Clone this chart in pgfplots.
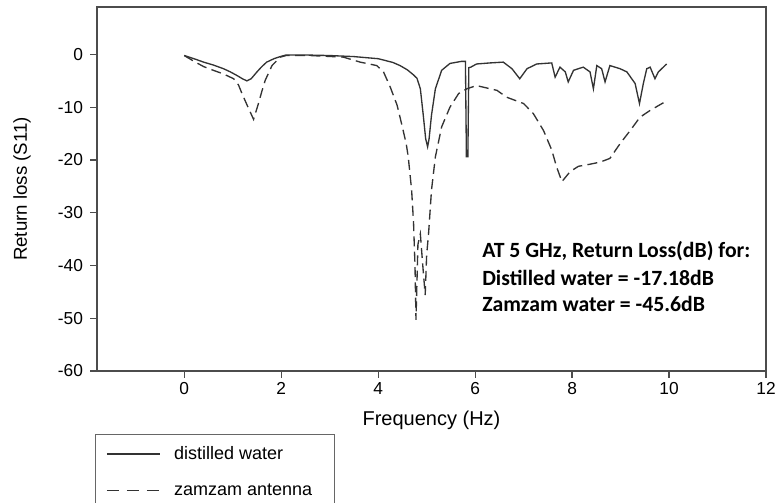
\documentclass[border=0pt]{standalone}
\usepackage{fontspec}
\setmainfont{Liberation Sans}
\newfontfamily\calib{Carlito}
\usepackage{pgfplots}
\pgfplotsset{compat=1.18}
\begin{document}
\begin{tikzpicture}
\path[use as bounding box, clip] (-72.75pt,-99pt) rectangle (508.5pt,278.25pt);
\begin{axis}[
  at={(0pt,0pt)}, anchor=south west,
  scale only axis, width=501.75pt, height=273pt,
  xmin=-1.8, xmax=12, ymin=-60, ymax=9,
  xtick={0,2,...,12}, ytick={-60,-50,...,0},
  tick pos=left, tick align=outside, major tick length=5pt,
  axis line style={black!70, line width=0.9pt},
  every tick/.style={black!70, line width=0.9pt},
  ticklabel style={font=\fontsize{13}{15}\selectfont},
  yticklabel style={xshift=-2pt},
  /pgf/number format/assume math mode=true,
  xlabel={Frequency (Hz)},
  ylabel={Return loss (S11)},
  xlabel style={font=\fontsize{15}{17}\selectfont, at={(axis description cs:0.5,-0.1346)}, anchor=center},
  ylabel style={font=\fontsize{14}{16}\selectfont, at={(axis description cs:-0.112,0.5)}, anchor=center},
  legend style={at={(-0.003,-0.173)}, anchor=north west, draw=black!60, line width=0.8pt,
    font=\fontsize{13.5}{15}\selectfont, row sep=12.5pt, inner xsep=8pt, inner ysep=7pt,
    nodes={inner sep=2pt}, column sep=8pt},
  legend cell align=left,
  legend image code/.code={\draw[#1] (0pt,0pt) -- (40pt,0pt);},
]
\addplot[black!80, line width=1pt] coordinates {
(0,-0.2) (0.2,-0.8) (0.4,-1.45) (0.6,-2.0) (0.81,-2.7) (0.95,-3.3) (1.09,-4.0) (1.2,-4.6) (1.29,-5.0)
(1.38,-4.6) (1.5,-3.3) (1.6,-2.3) (1.7,-1.45) (1.85,-0.8) (1.98,-0.4) (2.1,-0.1) (2.5,-0.1) (3.0,-0.2)
(3.5,-0.4) (4.0,-0.8) (4.3,-1.5) (4.45,-2.1) (4.6,-2.9) (4.72,-3.8) (4.8,-4.5) (4.87,-6.5) (4.93,-11.5)
(4.98,-16) (5.02,-17.5) (5.05,-16) (5.1,-11.5) (5.18,-6.5) (5.31,-3) (5.48,-1.7) (5.72,-1.3) (5.80,-1.3)
(5.82,-19.4) (5.85,-19.4) (5.87,-2.5) (5.91,-2.4) (6.03,-1.8) (6.31,-1.6) (6.58,-1.45) (6.76,-2.7)
(6.92,-4.6) (7.07,-2.7) (7.27,-1.8) (7.58,-1.6) (7.65,-4.3) (7.75,-2.4) (7.86,-3.3) (7.92,-5.2)
(8.03,-3.0) (8.23,-2.4) (8.37,-3.3) (8.44,-6.5) (8.51,-2.1) (8.61,-2.7) (8.68,-5.2) (8.78,-2.1)
(8.99,-2.7) (9.13,-3.3) (9.30,-5.5) (9.39,-9.3) (9.47,-5.5) (9.54,-2.7) (9.61,-2.4) (9.71,-4.6)
(9.78,-3.3) (9.95,-1.8)
};
\addlegendentry{\makebox[110pt][l]{distilled water}}
\addplot[black!80, line width=1pt, dash pattern=on 7.5pt off 4pt,
  legend image code/.code={\draw[black!80, line width=1pt, dash pattern=on 9pt off 6pt] (0pt,0pt) -- (40pt,0pt);}] coordinates {
(0,-0.2) (0.2,-1.3) (0.4,-2.3) (0.6,-3.0) (0.81,-3.7) (1.02,-4.6) (1.12,-5.8) (1.19,-7.4) (1.33,-10.3)
(1.43,-12.3) (1.53,-9.3) (1.6,-7) (1.67,-4.9) (1.81,-2.1) (1.98,-0.5) (2.1,-0.2) (2.6,-0.2) (3.28,-0.5)
(3.63,-1.45) (3.97,-2.1) (4.11,-3.3) (4.25,-6.2) (4.39,-9.6) (4.49,-13.4) (4.58,-17) (4.62,-19.4)
(4.69,-25.7) (4.73,-32) (4.76,-40.2) (4.78,-50.3) (4.82,-36) (4.87,-34) (4.92,-40) (4.97,-45.6)
(5.0,-38) (5.04,-33.9) (5.1,-25.7) (5.18,-19.4) (5.31,-13.7) (5.48,-10) (5.66,-7.4) (5.83,-6.5)
(6.03,-5.9) (6.31,-6.5) (6.45,-6.8) (6.65,-8.1) (7.0,-9.3) (7.2,-11.2) (7.41,-14.4) (7.58,-18.1)
(7.68,-21.3) (7.79,-24.1) (7.96,-22.2) (8.13,-21.2) (8.37,-20.8) (8.58,-20.4) (8.78,-19.7)
(8.99,-16.9) (9.2,-14.4) (9.40,-11.9) (9.61,-10.6) (9.95,-8.8)
};
\addlegendentry{zamzam antenna}
\node[anchor=west, inner sep=0pt, font=\calib\bfseries\fontsize{16.3}{18}\selectfont] at (axis description cs:0.5755,0.33) {AT 5 GHz, Return Loss(dB) for:};
\node[anchor=west, inner sep=0pt, font=\calib\bfseries\fontsize{16.3}{18}\selectfont] at (axis description cs:0.5755,0.256) {Distilled water = -17.18dB};
\node[anchor=west, inner sep=0pt, font=\calib\bfseries\fontsize{16.3}{18}\selectfont] at (axis description cs:0.5755,0.184) {Zamzam water = -45.6dB};
\end{axis}
\end{tikzpicture}
\end{document}
